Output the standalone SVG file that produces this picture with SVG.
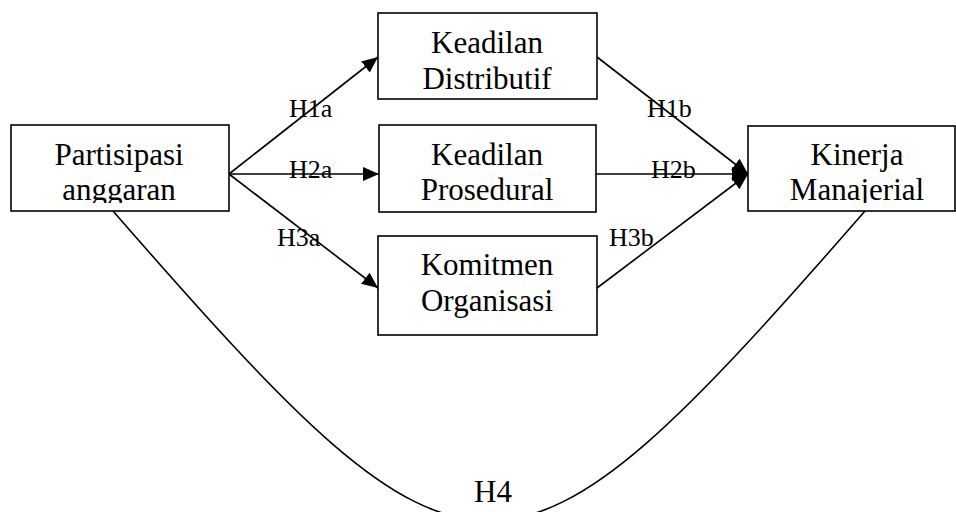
<svg xmlns="http://www.w3.org/2000/svg" width="956" height="512" viewBox="0 0 956 512">
<style>
.box{fill:#fff;stroke:#000;stroke-width:1.6}
.t{font-size:31px;fill:#000;text-anchor:middle}
.lbl{font-size:26px;fill:#000}
.c{fill:none;stroke:#000;stroke-width:1.6}
</style>
<defs>
<marker id="ah" markerUnits="userSpaceOnUse" markerWidth="18" markerHeight="16" refX="16" refY="7" orient="auto">
<path d="M0,0 L16,7 L0,14 Z" fill="#000"/>
</marker>
<clipPath id="cp1"><rect x="11" y="125" width="218" height="78"/></clipPath>
<clipPath id="cp2"><rect x="378" y="13" width="219" height="78"/></clipPath>
<clipPath id="cp3"><rect x="379" y="125" width="217" height="79"/></clipPath>
<clipPath id="cp4"><rect x="378" y="236" width="219" height="91"/></clipPath>
<clipPath id="cp5"><rect x="748" y="126" width="207" height="77"/></clipPath>
</defs>
<g id="connectors" font-family="Liberation Serif, Times New Roman, serif">
<path class="c" d="M113,211 C473,624 505,624 865,211"/>
<line class="c" x1="229" y1="174" x2="378" y2="57" marker-end="url(#ah)"/>
<line class="c" x1="229" y1="174" x2="379" y2="174" marker-end="url(#ah)"/>
<line class="c" x1="229" y1="174" x2="378" y2="288" marker-end="url(#ah)"/>
<line class="c" x1="597" y1="57" x2="748" y2="174" marker-end="url(#ah)"/>
<line class="c" x1="596" y1="174" x2="748" y2="174" marker-end="url(#ah)"/>
<line class="c" x1="597" y1="288" x2="748" y2="174" marker-end="url(#ah)"/>
<text class="lbl" font-family="Liberation Serif, serif" x="289" y="117">H1a</text>
<text class="lbl" font-family="Liberation Serif, serif" x="289" y="178">H2a</text>
<text class="lbl" font-family="Liberation Serif, serif" x="277" y="246">H3a</text>
<text class="lbl" font-family="Liberation Serif, serif" x="647" y="117">H1b</text>
<text class="lbl" font-family="Liberation Serif, serif" x="651" y="178">H2b</text>
<text class="lbl" font-family="Liberation Serif, serif" x="609" y="246">H3b</text>
<text class="t" font-family="Liberation Serif, serif" x="474" y="502" style="text-anchor:start">H4</text>
</g>
<g id="partisipasi" font-family="Liberation Serif, serif">
<rect class="box" x="11" y="125" width="218" height="86"/>
<g clip-path="url(#cp1)"><text class="t" x="119" y="165">Partisipasi</text><text class="t" x="119" y="200">anggaran</text></g>
</g>
<g id="distributif" font-family="Liberation Serif, serif">
<rect class="box" x="378" y="13" width="219" height="86"/>
<g clip-path="url(#cp2)"><text class="t" x="487" y="53">Keadilan</text><text class="t" x="487" y="89">Distributif</text></g>
</g>
<g id="prosedural" font-family="Liberation Serif, serif">
<rect class="box" x="379" y="125" width="217" height="87"/>
<g clip-path="url(#cp3)"><text class="t" x="487" y="165">Keadilan</text><text class="t" x="487" y="200">Prosedural</text></g>
</g>
<g id="komitmen" font-family="Liberation Serif, serif">
<rect class="box" x="378" y="236" width="219" height="99"/>
<g clip-path="url(#cp4)"><text class="t" x="487" y="275">Komitmen</text><text class="t" x="487" y="311">Organisasi</text></g>
</g>
<g id="kinerja" font-family="Liberation Serif, serif">
<rect class="box" x="748" y="126" width="207" height="85"/>
<g clip-path="url(#cp5)"><text class="t" x="857" y="165">Kinerja</text><text class="t" x="857" y="200">Manajerial</text></g>
</g>
</svg>
